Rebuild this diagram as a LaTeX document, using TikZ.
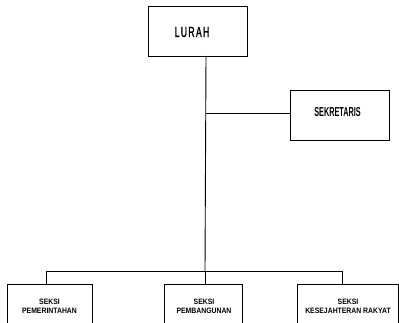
\documentclass[tikz,border=0pt]{standalone}
\usepackage{fontspec}
\newfontfamily\lurahfont[FakeStretch=0.6,LetterSpace=9,FakeBold=1.2]{Liberation Sans}
\newfontfamily\narrowbold[FakeStretch=0.56]{Liberation Sans Bold}
\newfontfamily\smallbold[FakeStretch=0.88]{Liberation Sans Bold}
\begin{document}
\begin{tikzpicture}[x=1pt,y=-1pt,
  orgbox/.style={draw=black,line width=0.9pt,fill=white,inner sep=0pt},
  conn/.style={draw=black,line width=0.9pt},
  seksi/.style={font=\smallbold\fontsize{7.8}{9.2}\selectfont,align=center,inner sep=0pt}]
\useasboundingbox (0,0) rectangle (399,323);
\clip (0,0) rectangle (399,323);
\fill[white] (0,0) rectangle (399,323);
% boxes
\node[orgbox,minimum width=99pt,minimum height=50pt] (lurah) at (197.5,31) {};
\node[font=\lurahfont\fontsize{14.5}{16}\selectfont,inner sep=0pt] (lurahtxt) at (192,32) {LURAH};
\node[orgbox,minimum width=99pt,minimum height=50pt] (sek) at (339.5,115) {};
\node[font=\narrowbold\fontsize{13}{15}\selectfont,inner sep=0pt] (sektxt) at (337.5,112) {SEKRETARIS};
\node[orgbox,minimum width=85pt,minimum height=60pt] (pem) at (49.5,314) {};
\node[orgbox,minimum width=78pt,minimum height=60pt] (pemb) at (203,314) {};
\node[orgbox,minimum width=101pt,minimum height=60pt] (kes) at (347.5,314) {};
\node[seksi] (pemtxt) at (49.5,306.5) {SEKSI\\PEMERINTAHAN};
\node[seksi] (pembtxt) at (204,306) {SEKSI\\PEMBANGUNAN};
\node[seksi] (kestxt) at (348,306.5) {SEKSI\\KESEJAHTERAN RAKYAT};
% connectors
\coordinate (top) at (206,56);
\coordinate (mid) at (206,113);
\coordinate (bus) at (205,271);
\coordinate (busl) at (46,271);
\coordinate (busr) at (342,271);
\draw[conn] (top) -- (bus);
\draw[conn] (mid) -- (mid -| sek.west);
\draw[conn] (busl) -- (busr);
\draw[conn] (busl) -- (busl |- pem.north);
\draw[conn] (busr) -- (busr |- kes.north);
\draw[conn] (bus) -- (bus |- pemb.north);
\end{tikzpicture}
\end{document}
